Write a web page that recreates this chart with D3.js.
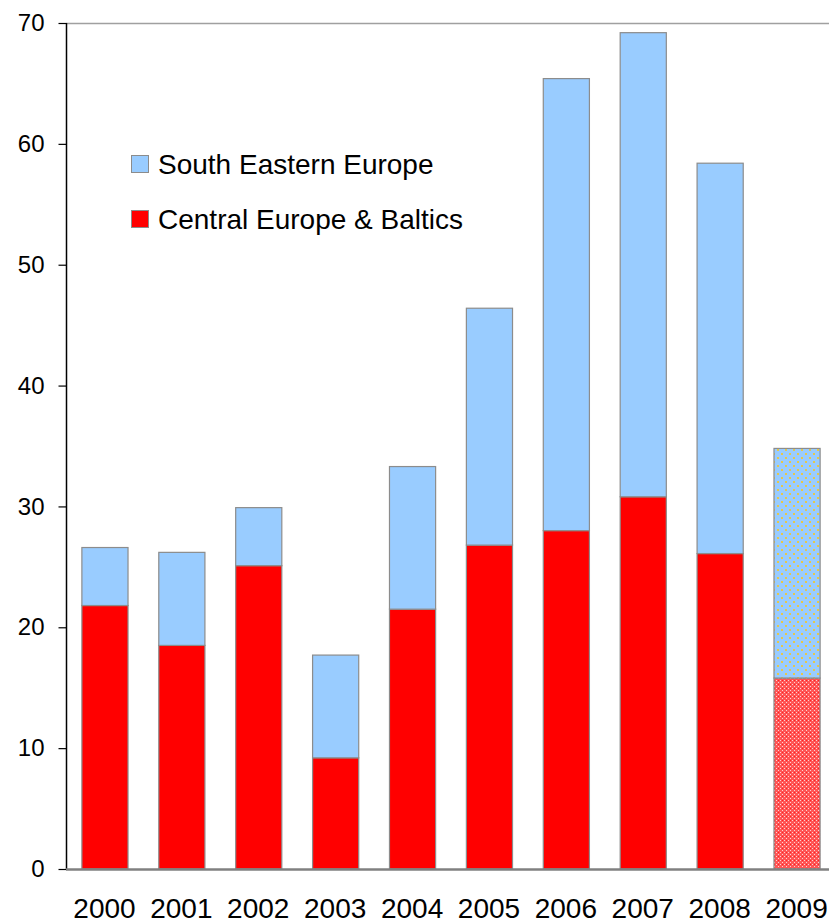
<!DOCTYPE html>
<html>
<head>
<meta charset="utf-8">
<script src="https://cdn.jsdelivr.net/npm/d3@7"></script>
<style>
  html, body { margin: 0; padding: 0; background: #fff; }
  svg { display: block; font-family: "Liberation Sans", Arial, sans-serif; }
</style>
</head>
<body>
<svg id="chart" width="829" height="924"></svg>
<script>
// Years on the category axis
const years = ["2000", "2001", "2002", "2003", "2004", "2005", "2006", "2007", "2008", "2009"];
// Central Europe & Baltics (bottom segment)
const centralEurope = [21.8, 18.5, 25.1, 9.2, 21.5, 26.8, 28.0, 30.8, 26.1, 15.8];
// South Eastern Europe (stacked on top)
const southEastern = [4.8, 7.7, 4.8, 8.5, 11.8, 19.6, 37.4, 38.4, 32.3, 19.0];
// Forecast year, drawn with a patterned fill
const forecastYears = ["2009"];
const yTicks = [0, 10, 20, 30, 40, 50, 60, 70];

const seriesNames = ["Central Europe & Baltics", "South Eastern Europe"];
const colors = { "Central Europe & Baltics": "#ff0000", "South Eastern Europe": "#99ccff" };

const svg = d3.select("#chart");
const plotLeft = 66, plotRight = 835, plotTop = 23, plotBottom = 869;
const fontStack = "'Liberation Sans', Arial, sans-serif";

const x = d3.scaleBand().domain(years).range([plotLeft, plotRight]).paddingInner(0.4).paddingOuter(0.2);
const y = d3.scaleLinear().domain([0, 70]).range([plotBottom, plotTop]);

// Patterns for the forecast bar
const defs = svg.append("defs");
const pBlue = defs.append("pattern").attr("id", "pat-see")
  .attr("patternUnits", "userSpaceOnUse").attr("width", 8).attr("height", 8);
pBlue.append("rect").attr("width", 8).attr("height", 8).attr("fill", "#99ccff");
pBlue.append("rect").attr("x", 1).attr("y", 1).attr("width", 2).attr("height", 2).attr("fill", "#e6c84a");
pBlue.append("rect").attr("x", 5).attr("y", 5).attr("width", 2).attr("height", 2).attr("fill", "#e6c84a");

const pRed = defs.append("pattern").attr("id", "pat-ceb")
  .attr("patternUnits", "userSpaceOnUse").attr("width", 4).attr("height", 4);
pRed.append("rect").attr("width", 4).attr("height", 4).attr("fill", "#ff5555");
pRed.append("rect").attr("x", 0).attr("y", 0).attr("width", 1).attr("height", 1).attr("fill", "#ffd0d0");
pRed.append("rect").attr("x", 2).attr("y", 2).attr("width", 1).attr("height", 1).attr("fill", "#ffd0d0");
pRed.append("rect").attr("x", 2).attr("y", 0).attr("width", 1).attr("height", 1).attr("fill", "#ff2020");

const table = years.map((yr, i) => ({
  year: yr,
  "Central Europe & Baltics": centralEurope[i],
  "South Eastern Europe": southEastern[i]
}));
const stacked = d3.stack().keys(seriesNames)(table);

// Top border line of the plot area
svg.append("line")
  .attr("x1", plotLeft).attr("x2", 829).attr("y1", y(70) + 0.5).attr("y2", y(70) + 0.5)
  .attr("stroke", "#a0a0a0").attr("stroke-width", 1.5);

// Bars
stacked.forEach(layer => {
  const key = layer.key;
  svg.append("g").selectAll("rect").data(layer).join("rect")
    .attr("x", d => x(d.data.year) + 0.5)
    .attr("width", x.bandwidth())
    .attr("y", d => y(d[1]))
    .attr("height", d => y(d[0]) - y(d[1]))
    .attr("fill", d => forecastYears.includes(d.data.year)
      ? (key === "South Eastern Europe" ? "url(#pat-see)" : "url(#pat-ceb)")
      : colors[key])
    .attr("stroke", "#8c8c8c").attr("stroke-width", 1.2);
});

// Y axis
const yAxis = svg.append("g").attr("transform", `translate(${plotLeft + 0.5},0)`)
  .call(d3.axisLeft(y).tickValues(yTicks).tickSize(8).tickPadding(14).tickFormat(d3.format("d")));
yAxis.select(".domain").attr("stroke", "#000").attr("stroke-width", 1.5).attr("d", `M0,${y(70)}V${y(0)}`);
yAxis.selectAll(".tick line").attr("stroke", "#000").attr("stroke-width", 1.2);
yAxis.selectAll(".tick text").attr("font-size", 24).attr("fill", "#000")
  .attr("font-family", fontStack);

// X axis
const xAxis = svg.append("g").attr("transform", `translate(0,${plotBottom + 0.5})`)
  .call(d3.axisBottom(x).tickSize(0).tickPadding(29));
xAxis.select(".domain").attr("stroke", "#808080").attr("stroke-width", 2.5).attr("d", `M${plotLeft},0H829`);
xAxis.selectAll(".tick text").attr("font-size", 28).attr("fill", "#000")
  .attr("font-family", fontStack);

// Legend
const legendItems = ["South Eastern Europe", "Central Europe & Baltics"];
const legend = svg.append("g");
legendItems.forEach((name, i) => {
  const ly = 155 + i * 55;
  legend.append("rect").attr("x", 131.5).attr("y", ly + 0.5).attr("width", 17).attr("height", 17)
    .attr("fill", colors[name]).attr("stroke", "#8c8c8c").attr("stroke-width", 1);
  legend.append("text").attr("x", 158).attr("y", ly + 19)
    .attr("font-size", 28).attr("fill", "#000").attr("font-family", fontStack).text(name);
});
</script>
</body>
</html>
